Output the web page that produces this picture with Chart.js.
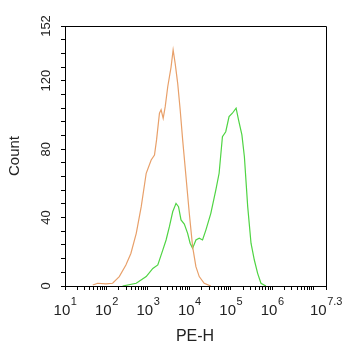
<!DOCTYPE html>
<html>
<head>
<meta charset="utf-8">
<script src="https://cdn.jsdelivr.net/npm/chart.js@4/dist/chart.umd.min.js"></script>
<style>
  body { margin: 0; background: #fff; }
  canvas { display: block; }
</style>
</head>
<body>
<canvas id="histChart" width="342" height="350"></canvas>
<script>
// log10(PE-H) positions and counts
const isoLog = [1.67, 1.79, 1.99, 2.15, 2.31, 2.47, 2.59, 2.72, 2.84, 2.96, 3.08, 3.16, 3.21, 3.28, 3.32, 3.37, 3.42, 3.48, 3.56, 3.61, 3.66, 3.72, 3.78, 3.84, 3.92, 4.0, 4.08, 4.16, 4.24, 4.36, 4.52];
const isoCount = [0.6, 1.6, 1.2, 1.6, 5.5, 12.3, 19, 30.8, 46.4, 65.9, 73.7, 76.6, 85.4, 101, 103, 98, 105, 116.5, 128, 138, 130, 118.5, 103, 85.4, 64, 42.5, 23, 11.3, 5.5, 1.6, 0];

const peLog = [2.39, 2.72, 2.96, 3.12, 3.24, 3.36, 3.44, 3.52, 3.6, 3.68, 3.74, 3.8, 3.88, 3.96, 4.02, 4.08, 4.16, 4.24, 4.32, 4.4, 4.52, 4.64, 4.72, 4.8, 4.88, 4.96, 5.04, 5.13, 5.19, 5.27, 5.33, 5.41, 5.49, 5.57, 5.65, 5.73, 5.85];
const peCount = [0, 1.6, 5.5, 10.3, 12.3, 21, 26.9, 34.7, 43.4, 48.3, 46.4, 38.6, 36.2, 30.8, 25, 22, 26.9, 27.9, 26.9, 32.7, 42.5, 56.1, 65.9, 87.3, 90.2, 99, 101, 104, 97, 88.3, 75.6, 46.4, 25, 15.2, 7.4, 1.6, 0];

const xLabelVals = [1, 2, 3, 4, 5, 6, 7.3];
const xLabelExps = ["1", "2", "3", "4", "5", "6", "7.3"];
const yLabelVals = [0, 40, 80, 120, 152];

// major + minor tick positions for the log axis
const xTickVals = [];
for (let d = 1; d <= 7; d++) {
  for (let k = 1; k <= 9; k++) {
    const v = d + Math.log10(k);
    if (v <= 7.3) xTickVals.push(v);
  }
}
xTickVals.push(7.3);
const yTickVals = [];
for (let v = 0; v <= 152; v += 8) yTickVals.push(v);

const toPts = (xs, ys) => xs.map((x, i) => ({ x: x, y: ys[i] }));

const FONT = "'Liberation Sans', Arial, sans-serif";

const labelPlugin = {
  id: 'labels',
  afterDraw(chart) {
    const ctx = chart.ctx;
    const xs = chart.scales.x;
    const ys = chart.scales.y;
    const a = chart.chartArea;
    ctx.save();
    ctx.strokeStyle = '#000';
    ctx.lineWidth = 1;
    ctx.beginPath();
    ctx.moveTo(Math.round(a.left) + 0.5, Math.round(a.top) + 0.5);
    ctx.lineTo(Math.round(a.right) + 0.5, Math.round(a.top) + 0.5);
    ctx.lineTo(Math.round(a.right) + 0.5, Math.round(a.bottom) + 0.5);
    ctx.stroke();

    ctx.fillStyle = '#222';
    // x tick labels: 10 with superscript exponent
    xLabelVals.forEach((v, i) => {
      const px = xs.getPixelForValue(v);
      ctx.font = '15px ' + FONT;
      const wb = ctx.measureText('10').width;
      ctx.font = '11px ' + FONT;
      const we = ctx.measureText(xLabelExps[i]).width;
      const start = px - (wb + we) / 2;
      ctx.textAlign = 'left';
      ctx.textBaseline = 'alphabetic';
      ctx.font = '15px ' + FONT;
      ctx.fillText('10', start, 315);
      ctx.font = '11px ' + FONT;
      ctx.fillText(xLabelExps[i], start + wb + 0.5, 305);
    });

    // y tick labels, rotated
    ctx.font = '13px ' + FONT;
    ctx.textAlign = 'center';
    ctx.textBaseline = 'middle';
    yLabelVals.forEach(v => {
      const py = ys.getPixelForValue(v);
      ctx.save();
      ctx.translate(46, py);
      ctx.rotate(-Math.PI / 2);
      ctx.fillText(String(v), 0, 0);
      ctx.restore();
    });

    // axis titles
    ctx.font = '15px ' + FONT;
    ctx.save();
    ctx.translate(15, (a.top + a.bottom) / 2);
    ctx.rotate(-Math.PI / 2);
    ctx.fillText('Count', 0, 0);
    ctx.restore();
    ctx.font = '16px ' + FONT;
    ctx.fillText('PE-H', 195, 337);
    ctx.restore();
  }
};

new Chart(document.getElementById('histChart'), {
  type: 'scatter',
  data: {
    datasets: [
      {
        label: 'Isotype',
        data: toPts(isoLog, isoCount),
        showLine: true,
        borderColor: '#e8a06a',
        borderWidth: 1.2,
        pointRadius: 0,
        tension: 0
      },
      {
        label: 'PE',
        data: toPts(peLog, peCount),
        showLine: true,
        borderColor: '#4fd443',
        borderWidth: 1.2,
        pointRadius: 0,
        tension: 0
      }
    ]
  },
  options: {
    responsive: false,
    animation: false,
    layout: { padding: { top: 26, right: 16, left: 0, bottom: 0 } },
    plugins: { legend: { display: false }, tooltip: { enabled: false } },
    scales: {
      x: {
        type: 'linear',
        min: 1,
        max: 7.3,
        afterBuildTicks: s => { s.ticks = xTickVals.map(v => ({ value: v })); },
        afterFit: s => { s.height = 64; },
        ticks: { display: false },
        grid: { drawOnChartArea: false, drawTicks: true, tickLength: 4, color: '#000' },
        border: { display: true, color: '#000', width: 1 }
      },
      y: {
        min: 0,
        max: 152,
        afterBuildTicks: s => { s.ticks = yTickVals.map(v => ({ value: v })); },
        afterFit: s => { s.width = 65; },
        ticks: { display: false },
        grid: { drawOnChartArea: false, drawTicks: true, tickLength: 4, color: '#000' },
        border: { display: true, color: '#000', width: 1 }
      }
    }
  },
  plugins: [labelPlugin]
});
</script>
</body>
</html>
